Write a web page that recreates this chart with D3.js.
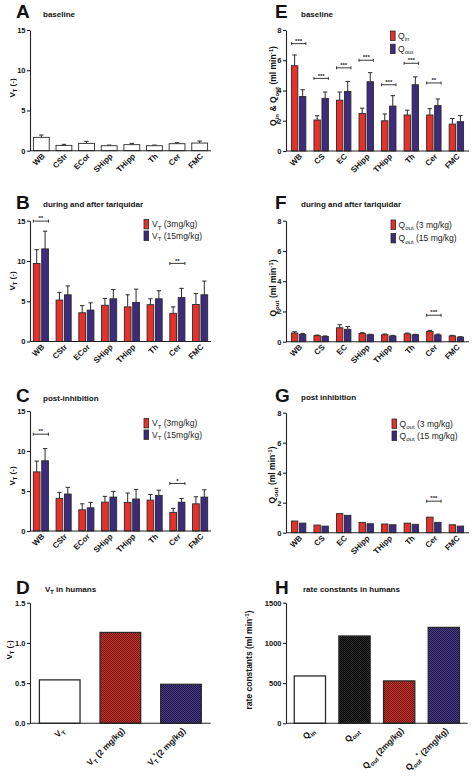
<!DOCTYPE html>
<html><head><meta charset="utf-8">
<script src="https://cdn.jsdelivr.net/npm/d3@7"></script>
<style>body{margin:0;background:#fff}svg{display:block;font-family:"Liberation Sans",Arial,sans-serif}</style>
</head><body><svg id="c" width="472" height="779"></svg>
<script>
// ---------------- data ----------------
const regionsVT = ["WB","CStr","ECor","SHipp","THipp","Th","Cer","FMC"];
const regionsQ  = ["WB","CS","EC","SHipp","THipp","Th","Cer","FMC"];
const ticksVT = [0,5,10,15];
const ticksQ = [0,2,4,6,8];

// A baseline VT
const vtBase    = [1.66,0.66,0.91,0.62,0.75,0.62,0.87,0.95];
const vtBaseErr = [0.29,0.13,0.25,0.08,0.16,0.08,0.13,0.25];
// B during and after tariquidar
const vtDur3     = [9.68,5.15,3.57,4.50,4.30,4.57,3.50,4.60];
const vtDur3Err  = [1.72,0.95,0.88,0.85,1.50,0.73,0.80,1.35];
const vtDur15    = [11.5,5.80,3.90,5.30,4.85,5.30,5.45,5.80];
const vtDur15Err = [2.20,1.10,0.90,1.15,1.65,1.00,1.15,1.70];
const sigB = [["WB",14.95,"**"],["Cer",9.7,"**"]];
// C post-inhibition
const vtPost3     = [7.39,4.08,2.65,3.61,3.57,3.86,2.33,3.40];
const vtPost3Err  = [1.35,0.75,0.75,0.72,1.18,0.71,0.50,0.88];
const vtPost15    = [8.78,4.62,2.90,4.24,4.00,4.45,3.60,4.24];
const vtPost15Err = [1.52,0.84,0.67,0.72,1.20,0.65,0.47,0.91];
const sigC = [["WB",12.1,"**"],["Cer",5.94,"*"]];
// D VT in humans
const humanVTLabels = ["VT","VT (2 mg/kg)","VT*(2 mg/kg)"];
const humanVT = [0.54,1.13,0.485];
const ticksD = [0,0.5,1.0,1.5];
// E baseline Qin / Qout
const qIn     = [5.64,2.05,3.36,2.48,2.00,2.38,2.38,1.78];
const qInErr  = [0.71,0.28,0.54,0.35,0.45,0.32,0.42,0.37];
const qOut    = [3.60,3.48,3.94,4.58,2.97,4.38,3.00,1.94];
const qOutErr = [0.45,0.42,0.66,0.60,0.69,0.52,0.44,0.41];
const sigE = [["WB",7.1,"***"],["CS",4.8,"***"],["EC",5.5,"***"],["SHipp",6.0,"***"],["THipp",4.38,"***"],["Th",5.8,"***"],["Cer",4.5,"**"]];
// F during and after tariquidar
const qOutDur3     = [0.57,0.40,0.92,0.55,0.46,0.52,0.67,0.38];
const qOutDur3Err  = [0.09,0.04,0.20,0.04,0.05,0.05,0.08,0.04];
const qOutDur15    = [0.48,0.35,0.82,0.46,0.38,0.46,0.45,0.30];
const qOutDur15Err = [0.07,0.03,0.18,0.03,0.04,0.03,0.05,0.03];
const sigF = [["Cer",1.75,"***"]];
// G post inhibition
const qOutPost3  = [0.78,0.51,1.27,0.69,0.58,0.64,1.04,0.53];
const qOutPost15 = [0.64,0.44,1.16,0.60,0.53,0.56,0.69,0.44];
const sigG = [["Cer",2.1,"***"]];
// H rate constants in humans
const rateLabels = ["Qin","Qout","Qout (2mg/kg)","Qout* (2mg/kg)"];
const rateValues = [589,1086,527,1193];
const ticksH = [0,500,1000,1500];

// ---------------- styles ----------------
const RED = "#e8302a", PURPLE = "#3d2b7e", EDGE = "#2a2a2a", AX = "#222";
const svg = d3.select("#c");
const defs = svg.append("defs");
function checker(id, a, b){
  const p = defs.append("pattern").attr("id",id).attr("width",2).attr("height",2).attr("patternUnits","userSpaceOnUse");
  p.append("rect").attr("width",2).attr("height",2).attr("fill",a);
  p.append("rect").attr("width",1).attr("height",1).attr("fill",b);
  p.append("rect").attr("x",1).attr("y",1).attr("width",1).attr("height",1).attr("fill",b);
}
checker("pRed","#c8302a","#6e1a15");
checker("pPur","#4a3b8c","#1f1845");
checker("pBlk","#2a2a2a","#050505");

// rich text: parts = [[text, mode]], mode '', 'sub', 'sup'
function rich(t, parts, fs){
  let shift = 0;
  parts.forEach(([s,m])=>{
    const target = m==="sub" ? fs*0.3 : m==="sup" ? -fs*0.4 : 0;
    const ts = t.append("tspan").text(s).attr("dy", target-shift);
    if(m) ts.attr("font-size", fs*0.72);
    shift = target;
  });
}
function parseLabel(s){
  const out=[]; const re=/(VT|Qin|Qout|\*|min-1)/g; let last=0, mm;
  while((mm=re.exec(s))){
    if(mm.index>last) out.push([s.slice(last,mm.index),""]);
    const k=mm[0];
    if(k==="VT") {out.push(["V",""]);out.push(["T","sub"]);}
    else if(k==="Qin"){out.push(["Q",""]);out.push(["in","sub"]);}
    else if(k==="Qout"){out.push(["Q",""]);out.push(["out","sub"]);}
    else if(k==="*"){out.push(["*","sup"]);}
    else if(k==="min-1"){out.push(["min",""]);out.push(["-1","sup"]);}
    last=re.lastIndex;
  }
  if(last<s.length) out.push([s.slice(last),""]);
  return out;
}

function titles(letter, lx, ly, title, tx, ty){
  svg.append("text").attr("x",lx).attr("y",ly).attr("font-size",19).attr("font-weight","bold").attr("fill","#111").text(letter);
  const t = svg.append("text").attr("x",tx).attr("y",ty).attr("font-size",8).attr("font-weight","bold").attr("fill","#111");
  rich(t, parseLabel(title), 8);
}

function yLabel(str, bx, cy, fs){
  const t = svg.append("text").attr("transform",`translate(${bx},${cy}) rotate(-90)`)
    .attr("text-anchor","middle").attr("font-size",fs).attr("font-weight","bold").attr("fill","#111");
  rich(t, parseLabel(str), fs);
}

function axes(x, y, ticks, fmt, x0, x1, y0){
  const g = svg.append("g").attr("transform",`translate(${x0},0)`)
    .call(d3.axisLeft(y).tickValues(ticks).tickSize(3).tickSizeOuter(0).tickPadding(1.5).tickFormat(fmt));
  g.selectAll("text").attr("font-size",7.5).attr("font-weight","bold").attr("fill","#111").attr("font-family",null);
  g.selectAll("line,path").attr("stroke",AX).attr("stroke-width",1.1);
  svg.append("line").attr("x1",x0).attr("x2",x1).attr("y1",y0).attr("y2",y0).attr("stroke",AX).attr("stroke-width",1.1);
}

function xLabels(x, cats, labels, y0, fs, dx, dy){
  cats.forEach((c,i)=>{
    const t = svg.append("text")
      .attr("transform",`translate(${x(c)+x.bandwidth()/2+dx},${y0+dy}) rotate(-45)`)
      .attr("text-anchor","end").attr("dy","0.35em")
      .attr("font-size",fs).attr("font-weight","bold").attr("fill","#111");
    rich(t, parseLabel(labels[i]), fs);
  });
}

function grouped(o){
  const x = d3.scaleBand().domain(o.cats).range([o.x0,o.x1]).paddingInner(o.pi).paddingOuter(o.po);
  const y = d3.scaleLinear().domain([0,o.ymax]).range([o.y0,o.yTop]);
  const xs = d3.scaleBand().domain(d3.range(o.series.length)).range([0,x.bandwidth()]).paddingInner(o.series.length>1?0.2:0);
  o.series.forEach((s,si)=>{
    const g = svg.append("g");
    o.cats.forEach((c,i)=>{
      const bx = x(c)+xs(si), bw = xs.bandwidth(), v = s.values[i];
      if(s.errs){
        const cx = bx+bw/2, e = s.errs[i];
        g.append("line").attr("x1",cx).attr("x2",cx).attr("y1",y(v)).attr("y2",y(v+e)).attr("stroke",EDGE).attr("stroke-width",1);
        g.append("line").attr("x1",cx-2.2).attr("x2",cx+2.2).attr("y1",y(v+e)).attr("y2",y(v+e)).attr("stroke",EDGE).attr("stroke-width",1);
      }
      g.append("rect").attr("x",bx).attr("y",y(v)).attr("width",bw).attr("height",o.y0-y(v))
        .attr("fill",s.color).attr("stroke",EDGE).attr("stroke-width",0.9);
    });
  });
  (o.sig||[]).forEach(([c,lvl,lab])=>{
    const a = x(c), b = x(c)+x.bandwidth(), yy = y(lvl);
    svg.append("line").attr("x1",a).attr("x2",b).attr("y1",yy).attr("y2",yy).attr("stroke",AX).attr("stroke-width",0.9);
    [a,b].forEach(p=>svg.append("line").attr("x1",p).attr("x2",p).attr("y1",yy-1.5).attr("y2",yy+1.5).attr("stroke",AX).attr("stroke-width",0.9));
    svg.append("text").attr("x",(a+b)/2).attr("y",yy-0.8).attr("text-anchor","middle").attr("font-size",6).attr("font-weight","bold").attr("fill","#222").text(lab);
  });
  axes(x,y,o.ticks,d3.format("d"),o.x0,o.x1,o.y0);
  xLabels(x,o.cats,o.cats,o.y0,8,4,6);
}

function legend(items, sx, sy, gap, tx){
  items.forEach(([lab,col],i)=>{
    const yy = sy + i*gap;
    svg.append("rect").attr("x",sx).attr("y",yy).attr("width",4.6).attr("height",9.4).attr("fill",col).attr("stroke",EDGE).attr("stroke-width",0.8);
    const t = svg.append("text").attr("x",tx).attr("y",yy+7.6).attr("font-size",8.5).attr("fill","#222");
    rich(t, parseLabel(lab), 8.5);
  });
}

function single(o){
  const x = d3.scaleBand().domain(o.labels).range([o.x0,o.x1]).paddingInner(o.pi).paddingOuter(o.po);
  const y = d3.scaleLinear().domain([0,o.ymax]).range([o.y0,o.yTop]);
  o.labels.forEach((c,i)=>{
    svg.append("rect").attr("x",x(c)).attr("y",y(o.values[i])).attr("width",x.bandwidth()).attr("height",o.y0-y(o.values[i]))
      .attr("fill",o.fills[i]).attr("stroke",EDGE).attr("stroke-width",1.3);
  });
  axes(x,y,o.ticks,o.fmt,o.x0,o.x1,o.y0);
  xLabels(x,o.labels,o.labels,o.y0,8.5,5,8);
}

// ---------------- panels ----------------
titles("A",16,18,"baseline",43,16.5);
grouped({cats:regionsVT,x0:30,x1:211,y0:150.7,yTop:30,ymax:15,ticks:ticksVT,pi:0.3,po:0.15,
  series:[{values:vtBase,errs:vtBaseErr,color:"#fff"}]});
yLabel("VT (-)",15,88,8);

titles("B",16,209,"during and after tariquidar",43,207);
grouped({cats:regionsVT,x0:30,x1:211,y0:341.5,yTop:220.7,ymax:15,ticks:ticksVT,pi:0.336,po:0.146,
  series:[{values:vtDur3,errs:vtDur3Err,color:RED},{values:vtDur15,errs:vtDur15Err,color:PURPLE}],sig:sigB});
yLabel("VT (-)",15,281,8);
legend([["VT (3mg/kg)",RED],["VT (15mg/kg)",PURPLE]],144,219.5,11.5,152);

titles("C",16,402,"post-inhibition",43,401);
grouped({cats:regionsVT,x0:30,x1:211,y0:531,yTop:411,ymax:15,ticks:ticksVT,pi:0.336,po:0.146,
  series:[{values:vtPost3,errs:vtPost3Err,color:RED},{values:vtPost15,errs:vtPost15Err,color:PURPLE}],sig:sigC});
yLabel("VT (-)",15,476,8);
legend([["VT (3mg/kg)",RED],["VT (15mg/kg)",PURPLE]],144,418.5,11.5,152);

titles("D",16,594,"VT in humans",45,592);
single({labels:humanVTLabels,values:humanVT,fills:["#fff","url(#pRed)","url(#pPur)"],x0:30,x1:210.7,y0:723.3,yTop:602.7,ymax:1.5,
  ticks:ticksD,fmt:d3.format(".1f"),pi:0.33,po:0.155});
yLabel("VT (-)",12,650,8);

titles("E",275,18,"baseline",301,16.5);
grouped({cats:regionsQ,x0:286,x1:469,y0:151,yTop:30,ymax:8,ticks:ticksQ,pi:0.36,po:0.24,
  series:[{values:qIn,errs:qInErr,color:RED},{values:qOut,errs:qOutErr,color:PURPLE}],sig:sigE});
yLabel("Qin & Qout (ml min-1)",276,86,8.5);
legend([["Qin",RED],["Qout",PURPLE]],390.5,31,13.2,398);

titles("F",275,209,"during and after tariquidar",301,207);
grouped({cats:regionsQ,x0:286,x1:469,y0:341.7,yTop:220.7,ymax:8,ticks:ticksQ,pi:0.36,po:0.24,
  series:[{values:qOutDur3,errs:qOutDur3Err,color:RED},{values:qOutDur15,errs:qOutDur15Err,color:PURPLE}],sig:sigF});
yLabel("Qout (ml min-1)",276,288,8.5);
legend([["Qout (3 mg/kg)",RED],["Qout (15 mg/kg)",PURPLE]],391,220,13.5,398.5);

titles("G",275,402,"post inhibition",301,400);
grouped({cats:regionsQ,x0:286,x1:469,y0:532.7,yTop:412.7,ymax:8,ticks:ticksQ,pi:0.36,po:0.24,
  series:[{values:qOutPost3,color:RED},{values:qOutPost15,color:PURPLE}],sig:sigG});
yLabel("Qout (ml min-1)",275,475,8.5);
legend([["Qout (3 mg/kg)",RED],["Qout (15 mg/kg)",PURPLE]],392,419,12,399.5);

titles("H",275,594,"rate constants in humans",303,592);
single({labels:rateLabels,values:rateValues,fills:["#fff","url(#pBlk)","url(#pRed)","url(#pPur)"],x0:286,x1:467.7,y0:723.3,yTop:602.7,ymax:1500,
  ticks:ticksH,fmt:d3.format("d"),pi:0.3,po:0.185});
yLabel("rate constants (ml min-1)",252,660,8.5);
</script></body></html>
